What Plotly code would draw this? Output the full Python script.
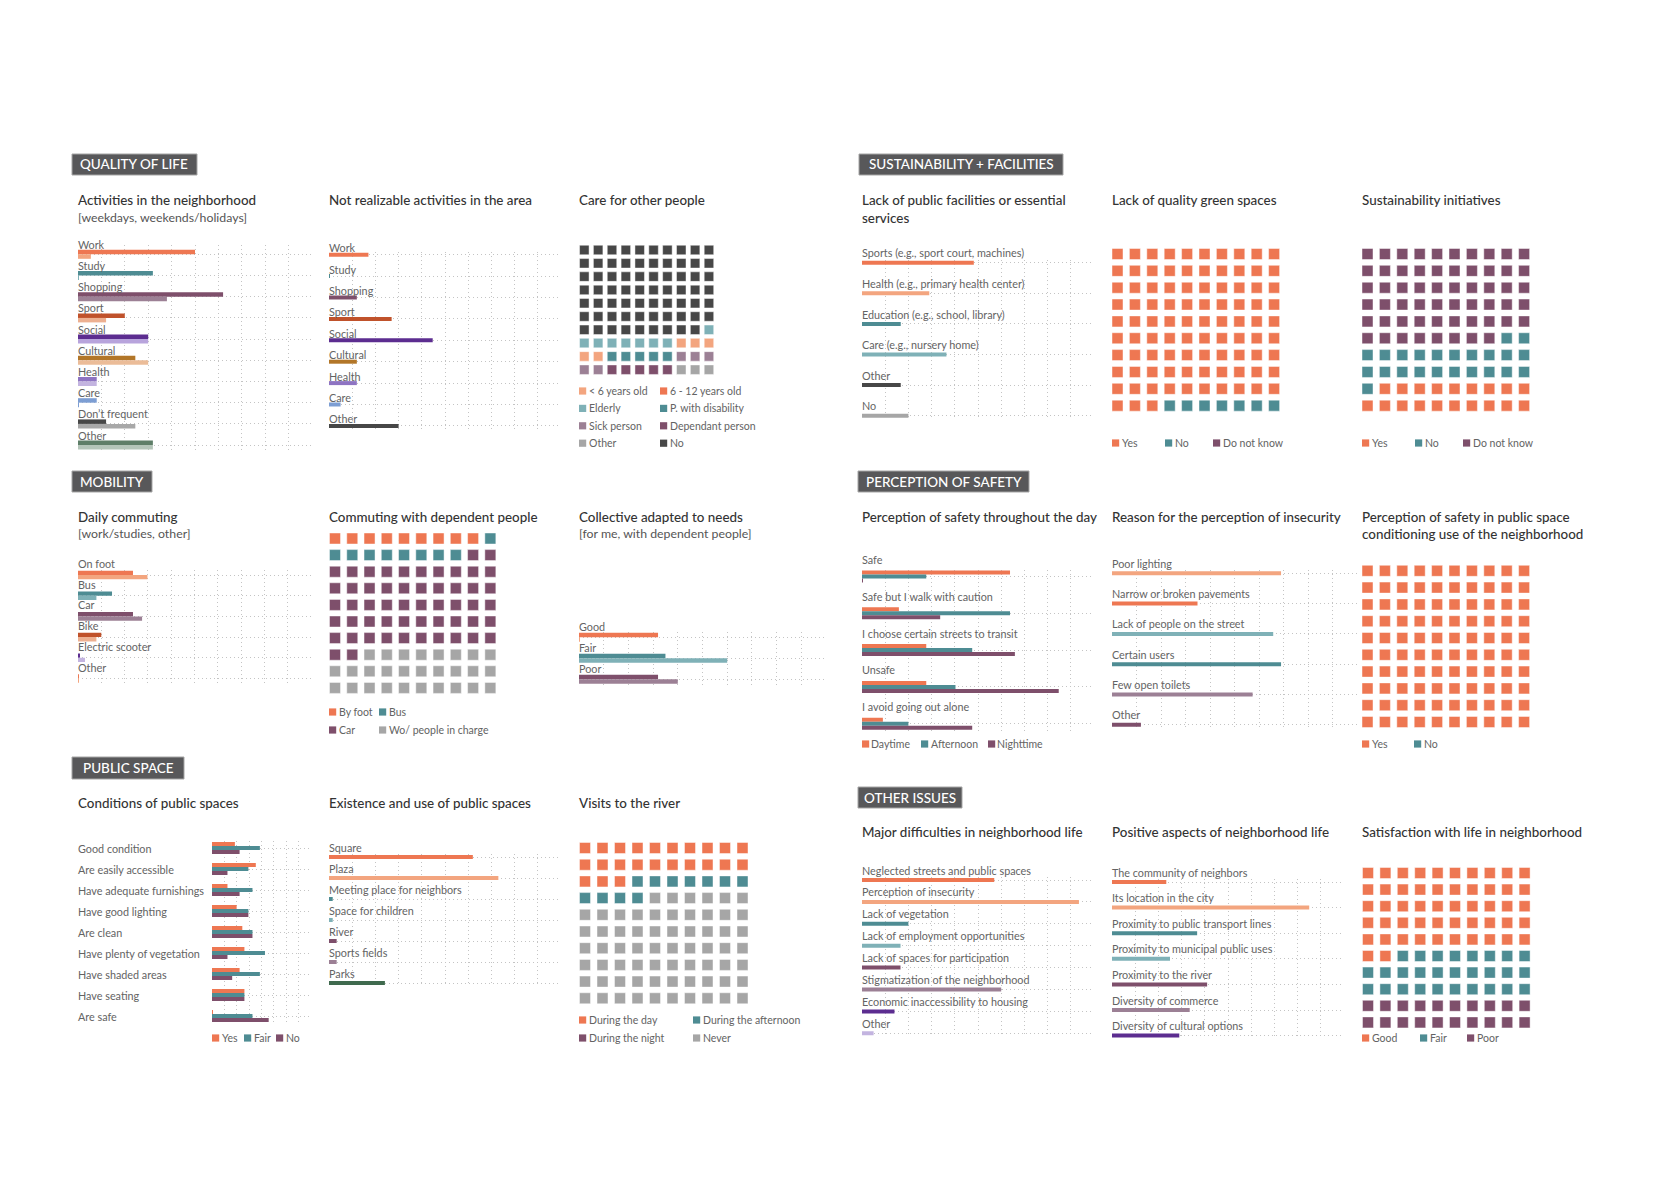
import plotly.graph_objects as go

W, H = 1670, 1181
FONT = "Lato"
TXT = "#333333"
LBL = "#636363"

# ---------------- DATA ----------------
# Quality of life
act_labels = ["Work", "Study", "Shopping", "Sport", "Social", "Cultural", "Health", "Care", "Don’t frequent", "Other"]
act_weekdays = [5.0, 3.2, 6.2, 2.0, 3.0, 2.45, 0.8, 0.8, 1.2, 3.2]
act_weekends = [0.55, 0.03, 3.8, 1.2, 3.0, 3.0, 0.8, 0.03, 2.45, 3.2]

nr_labels = ["Work", "Study", "Shopping", "Sport", "Social", "Cultural", "Health", "Care", "Other"]
nr_values = [1.7, 0.03, 1.2, 2.7, 4.47, 1.2, 1.2, 0.5, 3.0]

care_legend = ["< 6 years old", "6 - 12 years old", "Elderly", "P. with disability",
               "Sick person", "Dependant person", "Other", "No"]
care_fill = ["No", "Elderly", "< 6 years old", "P. with disability", "Sick person", "Dependant person", "Other"]
care_counts = [69, 8, 5, 5, 5, 5, 3]

# Sustainability + facilities
fac_labels = ["Sports (e.g., sport court, machines)", "Health (e.g., primary health center)",
              "Education (e.g., school, library)", "Care (e.g., nursery home)", "Other", "No"]
fac_values = [4.82, 2.9, 1.67, 3.64, 1.67, 2.0]

yn_legend = ["Yes", "No", "Do not know"]
green_counts = [93, 7, 0]             # Yes, No, Do not know
sust_fill = ["Do not know", "No", "Yes"]
sust_counts = [58, 23, 19]

# Mobility
dc_labels = ["On foot", "Bus", "Car", "Bike", "Electric scooter", "Other"]
dc_work = [2.36, 1.46, 2.36, 1.0, 0.07, 0.03]
dc_other = [2.98, 0.79, 2.75, 0.79, 0.3, 0.03]

cd_labels = ["By foot", "Bus", "Car", "Wo/ people in charge"]
cd_counts = [9, 9, 54, 28]

col_labels = ["Good", "Fair", "Poor"]
col_me = [3.2, 3.5, 3.2]
col_dep = [0.03, 6.0, 4.0]

# Perception of safety
sd_labels = ["Safe", "Safe but I walk with caution", "I choose certain streets to transit",
             "Unsafe", "I avoid going out alone"]
sd_series = ["Daytime", "Afternoon", "Nighttime"]
sd_day = [6.38, 1.59, 2.77, 2.77, 0.9]
sd_afternoon = [2.77, 6.38, 4.75, 4.03, 2.0]
sd_night = [0.04, 3.37, 6.59, 8.48, 4.75]

ri_labels = ["Poor lighting", "Narrow or broken pavements", "Lack of people on the street",
             "Certain users", "Few open toilets", "Other"]
ri_values = [6.9, 3.49, 6.58, 6.9, 5.74, 1.18]

pc_labels = ["Yes", "No"]
pc_counts = [100, 0]

# Public space
cp_labels = ["Good condition", "Are easily accessible", "Have adequate furnishings", "Have good lighting",
             "Are clean", "Have plenty of vegetation", "Have shaded areas", "Have seating", "Are safe"]
cp_series = ["Yes", "Fair", "No"]
cp_yes = [1.85, 3.54, 1.25, 1.99, 2.45, 2.62, 2.23, 2.62, 0.03]
cp_fair = [3.87, 2.94, 3.27, 2.94, 3.27, 4.28, 3.87, 2.62, 3.27]
cp_no = [2.23, 1.25, 2.23, 2.94, 3.27, 1.25, 1.63, 2.62, 4.58]

eu_labels = ["Square", "Plaza", "Meeting place for neighbors", "Space for children", "River", "Sports fields", "Parks"]
eu_values = [6.2, 7.3, 0.16, 0.16, 0.33, 0.33, 2.41]

rv_labels = ["During the day", "During the afternoon", "During the night", "Never"]
rv_counts = [23, 11, 0, 66]

# Other issues
md_labels = ["Neglected streets and public spaces", "Perception of insecurity", "Lack of vegetation",
             "Lack of employment opportunities", "Lack of spaces for participation",
             "Stigmatization of the neighborhood", "Economic inaccessibility to housing", "Other"]
md_values = [5.7, 9.35, 2.0, 1.66, 1.66, 6.0, 1.4, 0.5]

pa_labels = ["The community of neighbors", "Its location in the city", "Proximity to public transport lines",
             "Proximity to municipal public uses", "Proximity to the river", "Diversity of commerce",
             "Diversity of cultural options"]
pa_values = [2.34, 8.5, 3.67, 2.5, 4.1, 3.35, 2.9]

sat_labels = ["Good", "Fair", "Poor"]
sat_counts = [52, 28, 20]

# ---------------- STYLE ----------------
OR, OR_L = "#EE7752", "#F3A57F"
TE, TE_L = "#4E8C93", "#7FB1B7"
PL, PL_L = "#7E4F6B", "#9C8095"
RU, RU_L = "#C0522B", "#EDB091"
PU, PU_L = "#5C2D90", "#B8A4DC"
OC, OC_L = "#B27628", "#EBBC98"
LV, LV_L = "#8E74C2", "#C3B4E0"
LB = "#7D9ED3"
DG, DG_L = "#474747", "#A8A8A8"
GR = "#A6A6A6"
GN, GN_L = "#5E7E68", "#B4C5B9"
PK = "#3F6A4E"

LABEL_SIZE = 10.8
TITLE_SIZE = 13.4
SUB_SIZE = 12.3

fig = go.Figure()
annotations = []
shapes = []
layout_axes = {}
n_ax = [0]


def P(px, py):
    return px / W, 1 - py / H


def new_axes(px0, px1, py0, py1, xr, yr, grid=False, xdtick=1):
    n_ax[0] += 1
    k = n_ax[0]
    sx = "" if k == 1 else str(k)
    g = dict(gridcolor="#c4c4c4", griddash="1px,3px", gridwidth=1)
    layout_axes["xaxis" + sx] = dict(domain=[px0 / W, px1 / W], range=xr, anchor="y" + sx, showgrid=grid,
                                     dtick=xdtick, tick0=0, zeroline=False, showticklabels=False,
                                     showline=False, ticks="", fixedrange=True, **g)
    layout_axes["yaxis" + sx] = dict(domain=[1 - py1 / H, 1 - py0 / H], range=yr, anchor="x" + sx,
                                     showgrid=grid, dtick=1, tick0=0, zeroline=False, showticklabels=False,
                                     showline=False, ticks="", fixedrange=True, **g)
    return "x" + sx, "y" + sx


def text(px, py, s, size=TITLE_SIZE, color=TXT, weight=500):
    x, y = P(px, py)
    annotations.append(dict(text=s, xref="paper", yref="paper", x=x, y=y, xanchor="left", yanchor="middle",
                            showarrow=False, xshift=-2,
                            font=dict(family=FONT, size=size, color=color, weight=weight)))


def header(px0, py0, px1, py1, s):
    x0, y0 = P(px0, py1)
    x1, y1 = P(px1, py0)
    shapes.append(dict(type="rect", xref="paper", yref="paper", x0=x0, y0=y0, x1=x1, y1=y1,
                       fillcolor="#58585A", line=dict(color="#A5A5A5", width=1), layer="below"))
    annotations.append(dict(text=s, xref="paper", yref="paper", x=(x0 + x1) / 2, y=(y0 + y1) / 2,
                            xanchor="center", yanchor="middle", showarrow=False,
                            font=dict(family=FONT, size=13.5, color="white", weight=500)))


def legend_item(px, py, color, s):
    # small colour square + label
    x0, y0 = P(px, py + 3.6)
    x1, y1 = P(px + 7.2, py - 3.6)
    shapes.append(dict(type="rect", xref="paper", yref="paper", x0=x0, y0=y0, x1=x1, y1=y1,
                       fillcolor=color, line=dict(width=0)))
    x, y = P(px + 8.5, py)
    annotations.append(dict(text=s, xref="paper", yref="paper",
                            x=x, y=y, xanchor="left", yanchor="middle", showarrow=False, xshift=-1,
                            font=dict(family=FONT, size=10.5, color=LBL)))


def bar_panel(px0, px1, yc0, spacing, labels, series, colors, bar_px, label_shift,
              xmax=10, top_pad=None, bottom_pad=None, left_label_x=None):
    n = len(labels)
    m = len(series)
    half = m * bar_px / 2 + 1
    tp = half if top_pad is None else top_pad
    bp = half if bottom_pad is None else bottom_pad
    py0 = yc0 - tp
    py1 = yc0 + (n - 1) * spacing + bp
    yr = [n - 1 + bp / spacing, -tp / spacing]
    xa, ya = new_axes(px0, px1, py0, py1, [0, xmax], yr, grid=True)
    w = bar_px / spacing
    for j, (vals, cols) in enumerate(zip(series, colors)):
        off = -m * w / 2 + j * w
        fig.add_trace(go.Bar(x=vals, y=list(range(n)), orientation="h", width=w, offset=off,
                             marker=dict(color=cols, line=dict(width=0)), xaxis=xa, yaxis=ya,
                             showlegend=False, hoverinfo="skip"))
    for i, lab in enumerate(labels):
        if left_label_x is None:
            annotations.append(dict(text=lab, xref=xa, yref=ya, x=0, y=i, xanchor="left", yanchor="middle",
                                    yshift=label_shift, xshift=-2, showarrow=False,
                                    font=dict(family=FONT, size=LABEL_SIZE, color=LBL)))
        else:
            annotations.append(dict(text=lab, xref="paper", yref=ya, x=left_label_x / W, y=i, xanchor="left",
                                    yanchor="middle", xshift=-2, showarrow=False,
                                    font=dict(family=FONT, size=LABEL_SIZE, color=LBL)))


def waffle(cx0, cy0, pitch_x, pitch_y, size, counts, colors):
    xa, ya = new_axes(cx0 - pitch_x / 2, cx0 + 9.5 * pitch_x, cy0 - pitch_y / 2, cy0 + 9.5 * pitch_y,
                      [-0.5, 9.5], [9.5, -0.5])
    k = 0
    for cnt, col in zip(counts, colors):
        idx = list(range(k, k + cnt))
        k += cnt
        if not idx:
            continue
        fig.add_trace(go.Scatter(x=[i % 10 for i in idx], y=[i // 10 for i in idx], mode="markers",
                                 marker=dict(symbol="square", size=size, color=col,
                                             line=dict(width=1, color="rgba(255,255,255,0.45)")),
                                 xaxis=xa, yaxis=ya, showlegend=False, hoverinfo="skip"))


# ---------------- SECTION HEADERS ----------------
header(72, 154, 197, 175, "QUALITY OF LIFE")
header(859, 154, 1063, 175, "SUSTAINABILITY + FACILITIES")
header(72, 471, 152, 492, "MOBILITY")
header(858, 471, 1029, 492, "PERCEPTION OF SAFETY")
header(72, 757, 184, 779, "PUBLIC SPACE")
header(858, 787, 962, 808, "OTHER ISSUES")

# ---------------- ROW 1 ----------------
text(78, 200, "Activities in the neighborhood")
text(78, 217, "[weekdays, weekends/holidays]", size=SUB_SIZE, color="#555555", weight=400)
act_c1 = [OR, TE, PL, RU, PU, OC, LV, LB, DG, GN]
act_c2 = [OR_L, TE_L, PL_L, RU_L, PU_L, OC_L, LV_L, LB, DG_L, GN_L]
bar_panel(78, 312, 254.3, 21.2, act_labels, [act_weekdays, act_weekends], [act_c1, act_c2], 4.5, 10,
          top_pad=9, bottom_pad=5)

text(329, 200, "Not realizable activities in the area")
bar_panel(329, 561, 254.7, 21.4, nr_labels, [nr_values], [[OR, TE, PL, RU, PU, OC, LV, LB, DG]], 4, 7)

text(579, 200, "Care for other people")
care_col = {"< 6 years old": OR_L, "6 - 12 years old": OR, "Elderly": TE_L, "P. with disability": TE,
            "Sick person": PL_L, "Dependant person": PL, "Other": GR, "No": DG}
waffle(584.3, 250, 13.85, 13.3, 9.5, care_counts, [care_col[c] for c in care_fill])
for i, lab in enumerate(care_legend):
    legend_item(579 + (i % 2) * 81, 391 + (i // 2) * 17.4, care_col[lab], lab)

text(862, 200, "Lack of public facilities or essential")
text(862, 218, "services")
bar_panel(862, 1094, 262.7, 30.6, fac_labels, [fac_values], [[OR, OR_L, TE, TE_L, DG, GR]], 4, 9.7)

text(1112, 200, "Lack of quality green spaces")
yn_col = {"Yes": OR, "No": TE, "Do not know": PL}
waffle(1117.5, 254, 17.4, 16.85, 11, green_counts, [yn_col[c] for c in yn_legend])
for lab, dx in zip(yn_legend, [0, 53, 101]):
    legend_item(1112 + dx, 443, yn_col[lab], lab)

text(1362, 200, "Sustainability initiatives")
waffle(1367.5, 254, 17.4, 16.85, 11, sust_counts, [yn_col[c] for c in sust_fill])
for lab, dx in zip(yn_legend, [0, 53, 101]):
    legend_item(1362 + dx, 443, yn_col[lab], lab)

# ---------------- ROW 2 ----------------
text(78, 517, "Daily commuting")
text(78, 533, "[work/studies, other]", size=SUB_SIZE, color="#555555", weight=400)
bar_panel(78, 311, 575, 20.7, dc_labels, [dc_work, dc_other],
          [[OR, TE, PL, RU, PU, OR], [OR_L, TE_L, PL_L, RU_L, LV_L, OR_L]], 4.3, 11.5)

text(329, 517, "Commuting with dependent people")
cd_col = [OR, TE, PL, GR]
waffle(335, 538.5, 17.26, 16.6, 11, cd_counts, cd_col)
for i, lab in enumerate(cd_labels):
    legend_item(329 + (i % 2) * 50, 712 + (i // 2) * 18, cd_col[i], lab)

text(579, 517, "Collective adapted to needs")
text(579, 533, "[for me, with dependent people]", size=SUB_SIZE, color="#555555", weight=400)
bar_panel(579, 826, 637.3, 21, col_labels, [col_me, col_dep], [[OR, TE, PL], [OR_L, TE_L, PL_L]], 4.5, 10.6)

text(862, 517, "Perception of safety throughout the day")
bar_panel(862, 1094, 576.5, 36.8, sd_labels, [sd_day, sd_afternoon, sd_night],
          [OR, TE, PL], 4, 17)
for lab, col, dx in zip(sd_series, [OR, TE, PL], [0, 59, 126]):
    legend_item(862 + dx, 744, col, lab)

text(1112, 517, "Reason for the perception of insecurity")
bar_panel(1112, 1357, 573.3, 30.3, ri_labels, [ri_values], [[OR_L, OR, TE_L, TE, PL_L, PL]], 4, 10)

text(1362, 517, "Perception of safety in public space")
text(1362, 534, "conditioning use of the neighborhood")
waffle(1367.5, 570.8, 17.4, 16.8, 11, pc_counts, [OR, TE])
for lab, col, dx in zip(pc_labels, [OR, TE], [0, 52]):
    legend_item(1362 + dx, 744, col, lab)

# ---------------- ROW 3 ----------------
text(78, 803, "Conditions of public spaces")
bar_panel(212, 311, 848, 21, cp_labels, [cp_yes, cp_fair, cp_no], [OR, TE, PL], 4, 0,
          xmax=8, left_label_x=78)
for lab, col, dx in zip(cp_series, [OR, TE, PL], [0, 32, 64]):
    legend_item(212 + dx, 1038, col, lab)

text(329, 803, "Existence and use of public spaces")
bar_panel(329, 561, 857, 21, eu_labels, [eu_values], [[OR, OR_L, TE, TE_L, PL, PL_L, PK]], 4, 9.7)

text(579, 803, "Visits to the river")
rv_col = [OR, TE, PL, GR]
waffle(585, 848, 17.5, 16.7, 11, rv_counts, rv_col)
for i, lab in enumerate(rv_labels):
    legend_item(579 + (i % 2) * 114, 1020 + (i // 2) * 18, rv_col[i], lab)

text(862, 832, "Major difficulties in neighborhood life")
bar_panel(862, 1094, 880, 21.9, md_labels, [md_values], [[OR, OR_L, TE, TE_L, PL, PL_L, PU, LV_L]], 4, 10)

text(1112, 832, "Positive aspects of neighborhood life")
bar_panel(1112, 1344, 882, 25.6, pa_labels, [pa_values], [[OR, OR_L, TE, TE_L, PL, PL_L, PU]], 4, 10)

text(1362, 832, "Satisfaction with life in neighborhood")
sat_col = [OR, TE, PL]
waffle(1368, 873, 17.4, 16.6, 11, sat_counts, sat_col)
for lab, col, dx in zip(sat_labels, sat_col, [0, 58, 105]):
    legend_item(1362 + dx, 1038, col, lab)

fig.update_layout(**layout_axes)
fig.update_layout(width=W, height=H, margin=dict(l=0, r=0, t=0, b=0), paper_bgcolor="white",
                  plot_bgcolor="rgba(0,0,0,0)", showlegend=False, barmode="overlay",
                  annotations=annotations, shapes=shapes, font=dict(family=FONT))
fig.write_html("out.html")
